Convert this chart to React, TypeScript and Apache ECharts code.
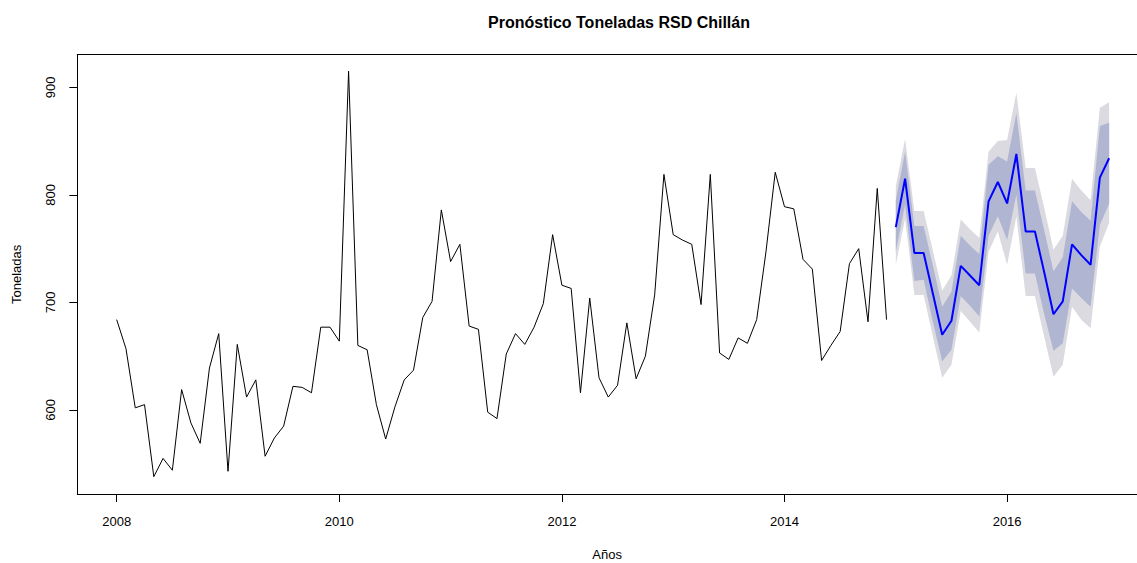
import { useEffect, useRef } from 'react';
import * as echarts from 'echarts';

// Monthly tonnage, Jan 2008 - Dec 2014
const actual = [
  684, 657, 602, 605, 538, 555, 544, 619, 588, 569, 639, 671,
  543, 661, 612, 628, 557, 574, 585, 622, 621, 616, 677, 677,
  664, 915, 660, 656, 605, 573, 603, 628, 637, 686, 701, 786,
  738, 754, 678, 675, 598, 592, 652, 671, 661, 677, 699, 763,
  716, 713, 616, 704, 630, 612, 623, 681, 629, 650, 707, 819,
  763, 758, 754, 698, 819, 653, 647, 667, 662, 684, 747, 821,
  789, 787, 740, 731, 646, 660, 673, 736, 750, 682, 806, 684,
];

// Forecast Jan 2015 - Dec 2016
const forecast = [
  770, 815, 746, 746, 708, 670, 683, 734, 725, 716, 794, 812,
  792, 838, 766, 766, 728, 689, 701, 754, 744, 735, 816, 834,
];
const lo80 = [
  747, 791, 720, 721, 682, 645, 656, 706, 697, 687, 762, 780,
  758, 800, 727, 727, 689, 655, 662, 713, 704, 696, 772, 792,
];
const hi80 = [
  795, 840, 771, 771, 734, 696, 710, 762, 753, 745, 828, 836,
  831, 876, 804, 804, 767, 729, 742, 794, 784, 776, 864, 867,
];
const lo95 = [
  735, 778, 707, 707, 668, 630, 642, 692, 682, 672, 747, 766,
  735, 780, 706, 706, 668, 631, 642, 696, 684, 676, 752, 774,
];
const hi95 = [
  808, 852, 785, 785, 748, 711, 725, 777, 768, 760, 840, 850,
  851, 895, 825, 825, 788, 749, 762, 815, 804, 795, 881, 886,
];

const yearTicks = [2008, 2010, 2012, 2014, 2016];
const valueTicks = [600, 700, 800, 900];

const startYear = 2008;
const actualTime = actual.map((_, i) => startYear + i / 12);
const fcTime = forecast.map((_, i) => startYear + (actual.length + i) / 12);

const X_MIN = 2007.646;
const X_MAX = 2017.167; // plot box runs past the right edge of the picture

const FONT = '"Liberation Sans", Arial, Helvetica, sans-serif';

const band = (lo: number[], hi: number[], color: string) => ({
  type: 'custom',
  silent: true,
  data: [0],
  renderItem: (_p: unknown, api: any) => {
    const pts: number[][] = [];
    hi.forEach((v, i) => pts.push(api.coord([fcTime[i], v])));
    for (let i = lo.length - 1; i >= 0; i--) pts.push(api.coord([fcTime[i], lo[i]]));
    return { type: 'polygon', shape: { points: pts }, style: { fill: color } };
  },
});

export default function App() {
  const el = useRef<HTMLDivElement>(null);

  useEffect(() => {
    if (!el.current) return;
    const chart = echarts.init(el.current, undefined, { renderer: 'svg' });
    const axisText = { color: '#000', fontFamily: FONT, fontSize: 13 };
    const line = { show: true, onZero: false, lineStyle: { color: '#000', width: 1 } };
    chart.setOption({
      animation: false,
      title: {
        text: 'Pronóstico Toneladas RSD Chillán',
        left: 614,
        top: 9,
        textAlign: 'center',
        textStyle: { color: '#000', fontFamily: FONT, fontSize: 16, fontWeight: 'bold' },
      },
      grid: { left: 77.3, right: 0, top: 54.7, bottom: 69, outerBoundsMode: 'none' },
      xAxis: [
        {
          type: 'value',
          min: X_MIN,
          max: X_MAX,
          name: 'Años',
          nameLocation: 'middle',
          nameGap: 54,
          nameTextStyle: axisText,
          axisLine: line,
          axisTick: { show: true, length: 8, customValues: yearTicks, lineStyle: { color: '#000' } },
          axisLabel: {
            ...axisText,
            margin: 21,
            customValues: yearTicks,
            formatter: (v: number) => String(v),
          },
          splitLine: { show: false },
        },
        {
          // top side of the box
          type: 'value',
          position: 'top',
          min: X_MIN,
          max: X_MAX,
          axisLine: line,
          axisTick: { show: false },
          axisLabel: { show: false },
          splitLine: { show: false },
        },
      ],
      yAxis: {
        type: 'value',
        min: 521.9,
        max: 930.3,
        name: 'Toneladas',
        nameLocation: 'middle',
        nameGap: 54,
        nameRotate: 90,
        nameTextStyle: axisText,
        axisLine: line,
        axisTick: { show: true, length: 8, customValues: valueTicks, lineStyle: { color: '#000' } },
        axisLabel: { ...axisText, margin: 20, rotate: 90, customValues: valueTicks },
        splitLine: { show: false },
      },
      series: [
        band(lo95, hi95, '#DADAE0'),
        band(lo80, hi80, '#B0B6D2'),
        {
          type: 'line',
          data: actualTime.map((t, i) => [t, actual[i]]),
          symbol: 'none',
          lineStyle: { color: '#000', width: 1 },
          silent: true,
        },
        {
          type: 'line',
          data: fcTime.map((t, i) => [t, forecast[i]]),
          symbol: 'none',
          lineStyle: { color: '#0000FF', width: 2 },
          silent: true,
        },
      ],
    });
    return () => chart.dispose();
  }, []);

  return (
    <div
      ref={el}
      style={{ position: 'fixed', left: 0, top: 0, width: 1137, height: 563, background: '#fff' }}
    />
  );
}
